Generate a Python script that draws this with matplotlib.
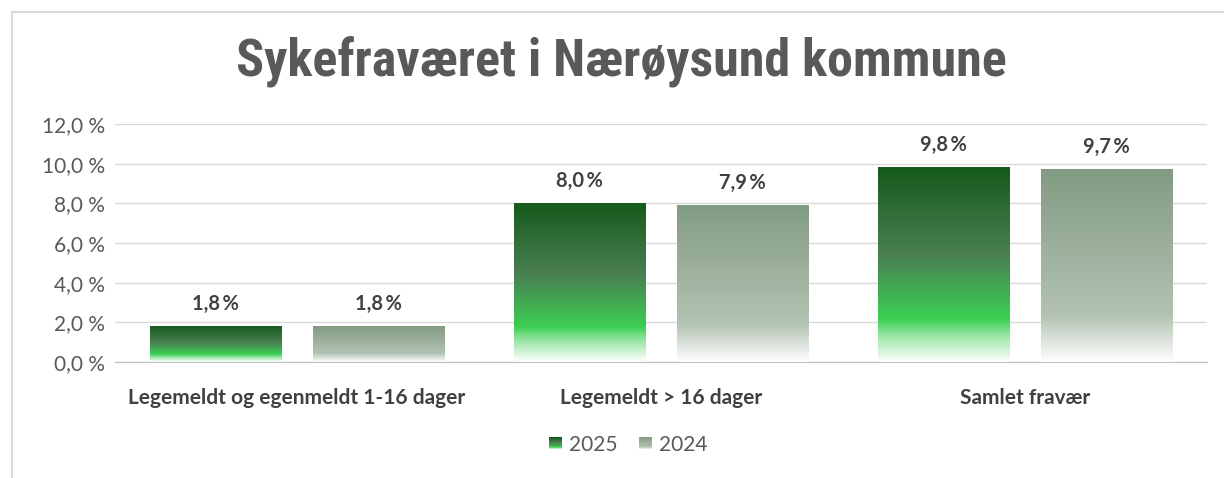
import numpy as np
import matplotlib.pyplot as plt
from matplotlib.colors import LinearSegmentedColormap
from matplotlib.patches import Rectangle
from matplotlib.legend_handler import HandlerBase

kategorier = ["Legemeldt og egenmeldt 1-16 dager", "Legemeldt > 16 dager", "Samlet fravær"]
aar = ["2025", "2024"]
verdier_2025 = [1.8, 8.0, 9.8]
verdier_2024 = [1.8, 7.9, 9.7]
yticks = [0, 2, 4, 6, 8, 10, 12]

plt.rcParams['font.family'] = ['Lato', 'DejaVu Sans']

# gradient from top (0) to bottom (1) of each bar
cm_2025 = LinearSegmentedColormap.from_list("g25", [
    (0.0, "#165a1c"), (0.45, "#4a7f52"), (0.78, "#3ccf52"),
    (0.86, "#93e3a0"), (1.0, "#ffffff")])
cm_2024 = LinearSegmentedColormap.from_list("g24", [
    (0.0, "#839b83"), (0.5, "#a2b5a2"), (0.76, "#b3c3b3"),
    (1.0, "#ffffff")])
grad = np.linspace(0, 1, 256).reshape(-1, 1)


class GradHandler(HandlerBase):
    def __init__(self, cmap):
        super().__init__()
        self.cmap = cmap

    def create_artists(self, legend, orig, xd, yd, w, h, fs, trans):
        n = 12
        s = h * 0.9
        x0 = xd + (w - s) / 2
        y0 = yd + (h - s) / 2
        arts = []
        for i in range(n):
            c = self.cmap(i / (n - 1))
            r = Rectangle((x0, y0 + s - (i + 1) * s / n), s, s / n + 0.2,
                          facecolor=c, edgecolor='none', transform=trans)
            arts.append(r)
        return arts


fig = plt.figure(figsize=(12.24, 4.78), dpi=100)
ax = fig.add_axes([115/1224, 1 - 362/478, 1092/1224, 238/478])

x = np.arange(len(kategorier))
bw = 0.36
off = 0.224
b1 = ax.bar(x - off, verdier_2025, bw, color='none', label=aar[0])
b2 = ax.bar(x + off, verdier_2024, bw, color='none', label=aar[1])

for bars, cm in [(b1, cm_2025), (b2, cm_2024)]:
    for b in bars:
        bx, by = b.get_x(), b.get_y()
        w, h = b.get_width(), b.get_height()
        ax.imshow(grad, cmap=cm, extent=[bx, bx + w, by, by + h],
                  aspect='auto', zorder=2, interpolation='bilinear')
        ax.annotate(f"{h:.1f}".replace('.', ',') + "\u2009%",
                    (bx + w / 2, by + h), xytext=(0, 9), textcoords='offset points',
                    ha='center', va='bottom', fontsize=14.5, fontweight='bold',
                    color='#404040')

ax.set_xlim(-0.5, 2.5)
ax.set_ylim(0, 12)
ax.set_yticks(yticks)
ax.set_yticklabels([f"{t:.1f}".replace('.', ',') + " %" for t in yticks],
                   fontsize=15, color='#595959')
ax.set_xticks(x)
ax.set_xticklabels(kategorier, fontsize=15, fontweight='bold', color='#404040')
ax.tick_params(axis='both', length=0)
ax.tick_params(axis='y', pad=7)
ax.tick_params(axis='x', pad=19)
ax.grid(axis='y', color='#d9d9d9', linewidth=1, zorder=0)
ax.set_axisbelow(True)
for s in ['top', 'right', 'left']:
    ax.spines[s].set_visible(False)
ax.spines['bottom'].set_color('#bfbfbf')

fig.text(0.5 + 9/1224, 1 - 62/478, "Sykefraværet i Nærøysund kommune", ha='center', va='center',
         fontsize=37.5, fontweight='bold', color='#595959',
         family=['Liberation Sans Narrow', 'Roboto Condensed', 'Roboto', 'DejaVu Sans'])

leg = fig.legend([b1, b2], aar, loc='center', bbox_to_anchor=(628/1224, 1 - 445/478),
                 ncol=2, frameon=False, fontsize=15, handlelength=0.7, handletextpad=0.3,
                 columnspacing=1.0,
                 handler_map={b1: GradHandler(cm_2025), b2: GradHandler(cm_2024)})
for t in leg.get_texts():
    t.set_color('#595959')

fig.add_artist(Rectangle((12/1224, -0.1), 1.2, 1.1 - 12/478, transform=fig.transFigure,
                         fill=False, edgecolor='#d9d9d9', linewidth=1.5))

fig.savefig("out.png", dpi=100)
